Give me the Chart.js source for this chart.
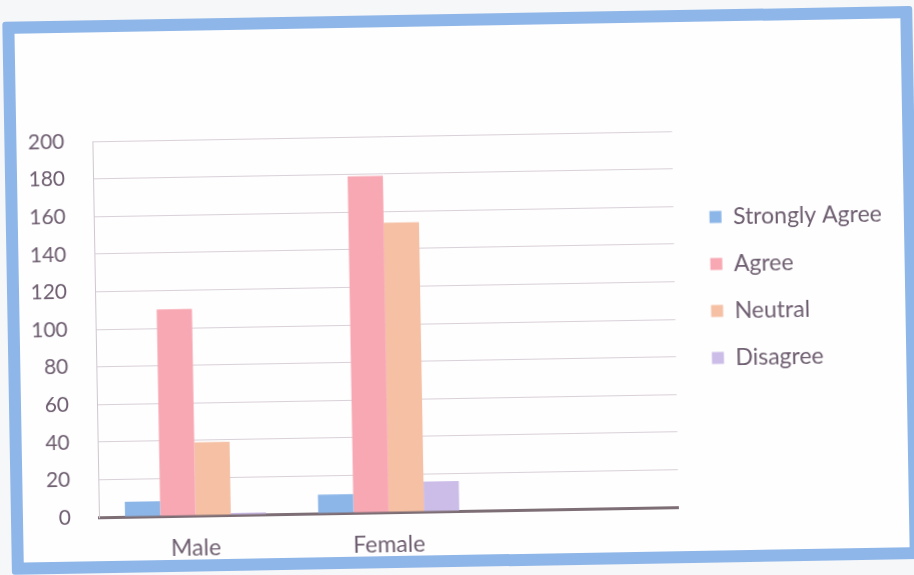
<!DOCTYPE html>
<html>
<head>
<meta charset="utf-8">
<script src="https://cdn.jsdelivr.net/npm/chart.js@4.4.1/dist/chart.umd.min.js"></script>
<style>
  html, body { margin: 0; padding: 0; background: #f6f7f9; }
  body { width: 914px; height: 575px; overflow: hidden; }
  #page {
    position: absolute; left: 0; top: 0; width: 914px; height: 575px;
    transform: rotate(-1deg); transform-origin: 457px 287px;
  }
  #frame {
    position: absolute; left: 7px; top: 14px; width: 886px; height: 529px;
    border: 12px solid #8fb6e8; border-radius: 3px; background: #fefefe;
  }
  #chart { position: absolute; left: 0; top: 0; }
</style>
</head>
<body>
<div id="page">
  <div id="frame"></div>
  <canvas id="chart" width="914" height="575"></canvas>
</div>
<script>
const categories = ["Male", "Female", ""];
const seriesNames = ["Strongly Agree", "Agree", "Neutral", "Disagree"];
const stronglyAgree = [8, 10, null];
const agree = [110, 179, null];
const neutral = [39, 154, null];
const disagree = [1, 16, null];
const yMax = 200;
const yStep = 20;

const colors = ["#8db6e8", "#f8a8b3", "#f5c0a4", "#cbbde8"];
const textColor = "#6e5e70";
const fontFamily = "Lato, 'Open Sans', sans-serif";

const datasets = [stronglyAgree, agree, neutral, disagree].map((values, i) => ({
    label: seriesNames[i],
    data: values,
    backgroundColor: colors[i],
    borderWidth: 0
}));

new Chart(document.getElementById("chart").getContext("2d"), {
    type: "bar",
    data: { labels: categories, datasets },
    options: {
        responsive: false,
        animation: false,
        devicePixelRatio: 1,
        datasets: { bar: { categoryPercentage: 0.73, barPercentage: 1 } },
        layout: { padding: { top: 10, bottom: 1, left: 0, right: 21 } },
        scales: {
            x: {
                grid: { display: false },
                border: { display: true, color: "#7d6d74", width: 3 },
                ticks: { color: textColor, font: { family: fontFamily, size: 23 }, padding: 11 },
                afterFit(scale) { scale.height = 63; }
            },
            y: {
                min: 0,
                max: yMax,
                ticks: { stepSize: yStep, color: textColor, font: { family: fontFamily, size: 21 }, padding: 28 },
                grid: { color: "#d9d0d8", drawTicks: false },
                border: { display: true, color: "#cfc7cf" },
                afterFit(scale) { scale.width = 95; }
            },
            // empty gap between plot and legend
            spacer: {
                type: "linear",
                position: "right",
                display: false,
                afterFit(scale) { scale.width = 12; }
            }
        },
        plugins: {
            title: {
                display: true,
                text: " ",
                font: { size: 10, lineHeight: 1 },
                padding: { top: 0, bottom: 115 }
            },
            legend: {
                position: "right",
                align: "center",
                labels: {
                    boxWidth: 12,
                    boxHeight: 12,
                    padding: 24,
                    color: textColor,
                    font: { family: fontFamily, size: 23 }
                }
            },
            tooltip: { enabled: false }
        }
    }
});
</script>
</body>
</html>
